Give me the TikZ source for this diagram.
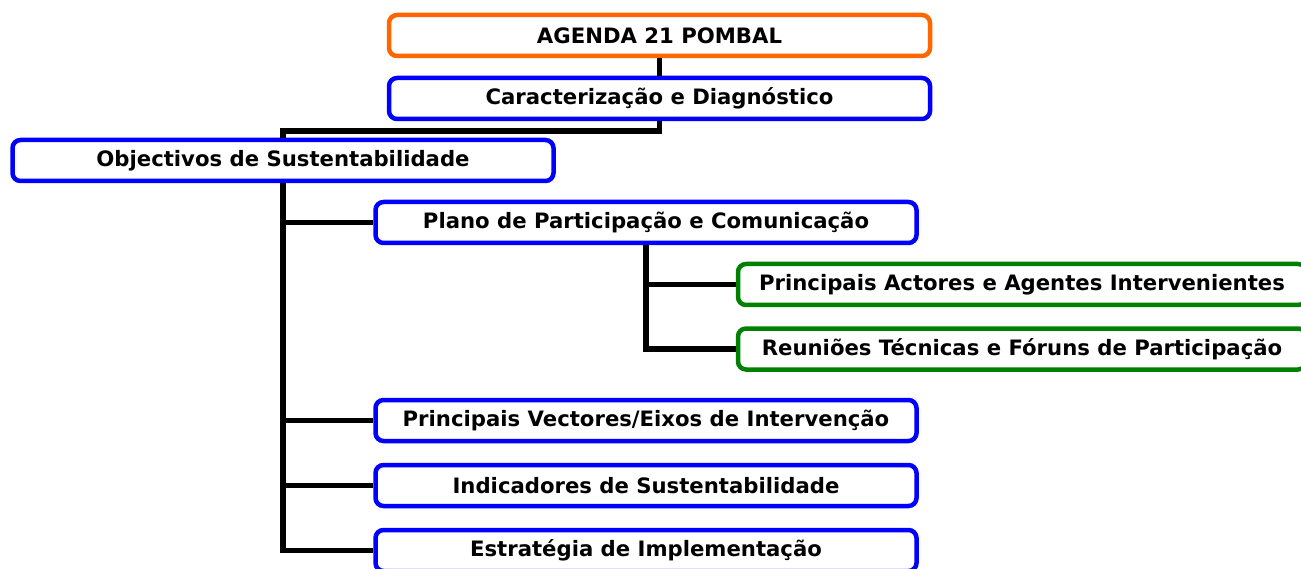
\documentclass[tikz,border=0pt]{standalone}
\usepackage{fontspec}
\setmainfont{DejaVu Sans}
\usetikzlibrary{positioning}
\definecolor{laranja}{HTML}{FF6600}
\definecolor{azul}{HTML}{0000FF}
\definecolor{verde}{HTML}{008000}
\tikzset{
  caixa/.style={draw=azul, line width=4.5pt, rounded corners=8pt, fill=white,
    minimum width=541pt, minimum height=41pt, inner sep=0pt,
    font=\fontsize{21.2}{25}\selectfont\bfseries},
  caixatopo/.style={caixa, draw=laranja},
  caixaverde/.style={caixa, draw=verde, minimum width=568pt},
  ligacao/.style={line width=5.5pt, draw=black, line join=miter}
}
\begin{document}
\begin{tikzpicture}[x=1pt,y=1pt]
  \clip (0,0) rectangle (1301,-569);
  \node[caixatopo] (agenda) at (659.5,-35.5) {AGENDA 21 POMBAL};
  \node[caixa] (carac) at (659.5,-98.5) {Caracterização e Diagnóstico};
  \node[caixa] (objectivos) at (283,-160.5) {Objectivos de Sustentabilidade};
  \node[caixa] (plano) at (646,-222.5) {Plano de Participação e Comunicação};
  \node[caixaverde] (actores) at (1022,-284.5) {Principais Actores e Agentes Intervenientes};
  \node[caixaverde] (reunioes) at (1022,-349) {Reuniões Técnicas e Fóruns de Participação};
  \node[caixa] (vectores) at (646,-420.5) {Principais Vectores/Eixos de Intervenção};
  \node[caixa] (indicadores) at (646,-485.5) {Indicadores de Sustentabilidade};
  \node[caixa] (estrategia) at (646,-550.5) {Estratégia de Implementação};
  % ligacoes
  \draw[ligacao] (agenda) -- (carac);
  \draw[ligacao] (carac.south) -- ++(0,-10) -| (objectivos.north);
  \draw[ligacao] (objectivos.south) |- (plano.west);
  \draw[ligacao] (objectivos.south) |- (vectores.west);
  \draw[ligacao] (objectivos.south) |- (indicadores.west);
  \draw[ligacao] (objectivos.south) |- (estrategia.west);
  \draw[ligacao] (plano.south) |- (actores.west);
  \draw[ligacao] (plano.south) |- (reunioes.west);
\end{tikzpicture}
\end{document}
